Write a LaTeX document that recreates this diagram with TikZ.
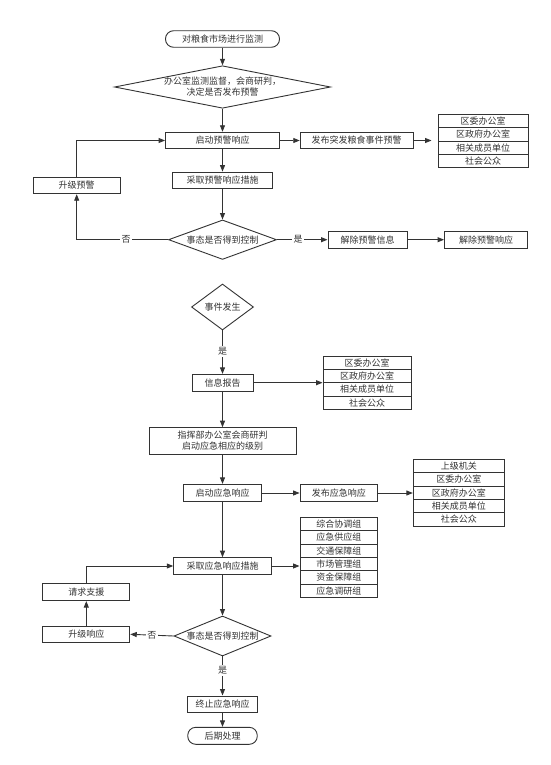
\documentclass[tikz,border=0pt]{standalone}
\usepackage{fontspec}
\setmainfont{Noto Sans CJK SC}
\usetikzlibrary{arrows.meta,shapes.geometric}
\definecolor{lc}{HTML}{333333}
\definecolor{tc}{HTML}{333333}
\tikzset{
  txt/.style={text=tc, font=\fontsize{9}{11}\selectfont},
  base/.style={txt, draw=lc, line width=0.9pt, inner sep=0pt, align=center},
  proc/.style={base, rectangle, minimum height=16.5pt},
  term/.style={base, rectangle, rounded corners=8pt, minimum height=16.5pt},
  dia/.style={base, diamond},
  item/.style={base, rectangle, minimum height=13.33pt},
  arr/.style={draw=lc, line width=0.9pt, -{Triangle[length=6.5pt,width=5pt]}},
  lbl/.style={txt, fill=white, inner sep=1.5pt},
  dtext/.style={txt, align=center, inner sep=0pt}
}
\begin{document}
\begin{tikzpicture}[x=1pt,y=-1pt]
\useasboundingbox[fill=white] (0,0) rectangle (550,765);

% ---------- part 1 ----------
\node[term, minimum width=114pt] (t1) at (222.5,39) {对粮食市场进行监测};
\node[dia, minimum width=216pt, minimum height=42.5pt] (d1) at (222.5,87) {};
\node[dtext] (d1t) at (d1) {办公室监测监督，会商研判，\\决定是否发布预警};
\node[proc, minimum width=114pt] (qd) at (222.5,140.5) {启动预警响应};
\node[proc, minimum width=113pt] (fb) at (356.7,140.5) {发布突发粮食事件预警};
\node[item, minimum width=90pt] (l1a) at (483,121) {区委办公室};
\node[item, minimum width=90pt] (l1b) at (483,134.33) {区政府办公室};
\node[item, minimum width=90pt] (l1c) at (483,147.67) {相关成员单位};
\node[item, minimum width=90pt] (l1d) at (483,161) {社会公众};
\node[proc, minimum width=100pt] (cq) at (222.5,180.3) {采取预警响应措施};
\node[proc, minimum width=87pt] (sj) at (76.7,185.5) {升级预警};
\node[dia, minimum width=108pt, minimum height=39.5pt] (d2) at (222.5,239.7) {};
\node[dtext] (d2t) at (d2) {事态是否得到控制};
\node[proc, minimum width=79pt] (jx) at (367.5,239.7) {解除预警信息};
\node[proc, minimum width=83pt] (jr) at (486,239.7) {解除预警响应};

\draw[arr] (t1) -- (d1);
\draw[arr] (d1) -- (qd);
\draw[arr] (qd) -- (fb);
\draw[arr, shorten >=6pt] (fb) -- (fb -| l1b.west);
\draw[arr] (qd) -- (cq);
\draw[arr] (cq) -- (d2);
\draw[arr] (d2.west) -| node[lbl, pos=0.23] {否} (sj.south);
\draw[arr] (sj.north) |- (qd.west);
\draw[arr] (d2.east) -- node[lbl, pos=0.42] {是} (jx.west);
\draw[arr] (jx) -- (jr);

% ---------- part 2 ----------
\node[dia, minimum width=62pt, minimum height=46pt] (sf) at (222.5,307) {};
\node[dtext] (sft) at (sf) {事件发生};
\node[proc, minimum width=61pt, minimum height=16.7pt] (xb) at (222.5,382.7) {信息报告};
\node[item, minimum width=88pt] (l2a) at (367,362.7) {区委办公室};
\node[item, minimum width=88pt] (l2b) at (367,376) {区政府办公室};
\node[item, minimum width=88pt] (l2c) at (367,389.3) {相关成员单位};
\node[item, minimum width=88pt] (l2d) at (367,402.7) {社会公众};
\node[proc, minimum width=147pt, minimum height=26.7pt] (zh) at (222.5,441) {指挥部办公室会商研判\\启动应急相应的级别};
\node[proc, minimum width=78pt, minimum height=17.3pt] (qy) at (222.5,493) {启动应急响应};
\node[proc, minimum width=77.5pt, minimum height=17.3pt] (fy) at (338.8,493) {发布应急响应};
\node[item, minimum width=91pt] (l3a) at (458.8,466) {上级机关};
\node[item, minimum width=91pt] (l3b) at (458.8,479.33) {区委办公室};
\node[item, minimum width=91pt] (l3c) at (458.8,492.67) {区政府办公室};
\node[item, minimum width=91pt] (l3d) at (458.8,506) {相关成员单位};
\node[item, minimum width=91pt] (l3e) at (458.8,519.33) {社会公众};
\node[proc, minimum width=97.6pt, minimum height=16.7pt] (cy) at (222.5,566) {采取应急响应措施};
\node[item, minimum width=77.7pt] (l4a) at (338.8,524) {综合协调组};
\node[item, minimum width=77.7pt] (l4b) at (338.8,537.33) {应急供应组};
\node[item, minimum width=77.7pt] (l4c) at (338.8,550.67) {交通保障组};
\node[item, minimum width=77.7pt] (l4d) at (338.8,564) {市场管理组};
\node[item, minimum width=77.7pt] (l4e) at (338.8,577.33) {资金保障组};
\node[item, minimum width=77.7pt] (l4f) at (338.8,590.67) {应急调研组};
\node[proc, minimum width=87pt, minimum height=17.3pt] (qq) at (86.3,592) {请求支援};
\node[proc, minimum width=87pt, minimum height=16.7pt] (sy) at (86.3,634.3) {升级响应};
\node[dia, minimum width=97pt, minimum height=40pt] (d3) at (222.5,636) {};
\node[dtext] (d3t) at (d3) {事态是否得到控制};
\node[proc, minimum width=69.5pt, minimum height=16.7pt] (zz) at (222.5,704.3) {终止应急响应};
\node[term, minimum width=69.5pt, minimum height=17pt] (hq) at (222.5,735.8) {后期处理};

\draw[arr] (sf.south) -- node[lbl, pos=0.48] {是} (xb.north);
\draw[arr] (xb) -- (xb -| l2b.west);
\draw[arr] (xb) -- (zh);
\draw[arr] (zh) -- (qy);
\draw[arr] (qy) -- (fy);
\draw[arr] (fy) -- (fy -| l3c.west);
\draw[arr] (qy) -- (cy);
\draw[arr] (cy) -- (cy -| l4d.west);
\draw[arr] (cy) -- (d3);
\draw[arr] (d3.west) -- node[lbl, pos=0.5] {否} (sy.east);
\draw[arr] (sy) -- (qq);
\draw[arr] (qq.north) |- (cy.west);
\draw[arr] (d3.south) -- node[lbl, pos=0.36] {是} (zz.north);
\draw[arr] (zz) -- (hq);
\end{tikzpicture}
\end{document}
